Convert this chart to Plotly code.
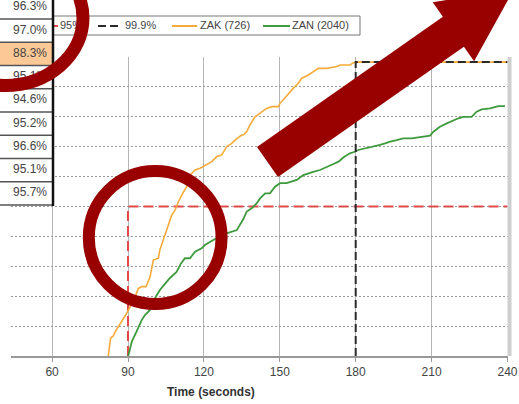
import plotly.graph_objects as go

# ---------------- data ----------------
series_names = ["95%", "99.9%", "ZAK (726)", "ZAN (2040)"]

zak_time = [82.2, 83.1, 84.2, 84.9, 89.5, 90.8, 92.8, 94.1, 95.4, 97.1, 98.7, 100.0, 102.0, 102.6,
            104.6, 105.9, 107.3, 108.6, 109.9, 111.9, 113.2, 114.5, 116.5, 118.5, 121.1, 123.1,
            125.1, 127.0, 129.0, 131.0, 132.3, 134.9, 135.6, 136.9, 138.2, 140.2, 142.2, 144.8,
            146.8, 149.4, 150.1, 153.4, 155.3, 157.3, 158.7, 161.3, 163.2, 165.2, 168.5, 172.5,
            173.8, 177.8, 178.9, 180.5, 240.0]
zak_pct = [0, 6.0, 6.7, 8.1, 14.3, 16.5, 19.8, 22.6, 23.2, 23.2, 26.4, 32.1, 32.7, 35.5,
           40.5, 43.5, 47.2, 48.8, 51.6, 54.8, 56.6, 60.5, 62.2, 62.8, 63.9, 65.0,
           66.7, 67.2, 70.0, 71.1, 72.2, 73.9, 73.9, 75.0, 77.3, 80.0, 81.2, 82.8,
           83.4, 83.4, 84.5, 87.9, 89.5, 91.2, 92.9, 94.0, 95.1, 96.2, 96.2, 96.8,
           97.3, 97.3, 98.0, 98.3, 98.3]

zan_time = [90.1, 91.5, 93.4, 95.4, 96.7, 98.7, 100.0, 101.5, 102.6, 104.6,
            106.6, 109.2, 110.9, 112.5, 114.5, 116.5, 119.1, 120.4, 122.4, 124.4,
            126.4, 129.0, 133.0, 134.3, 135.6, 136.9, 138.9, 140.9, 142.2, 144.2,
            146.1, 148.1, 150.1, 152.7, 154.7, 156.7, 159.3, 161.3, 163.2, 165.9,
            168.5, 171.2, 173.2, 175.1, 177.7, 179.7, 181.0, 184.3, 187.0, 189.6,
            191.6, 193.6, 196.2, 198.8, 202.1, 205.4, 209.4, 210.7, 213.3, 216.0,
            218.6, 220.6, 222.5, 225.8, 227.8, 229.8, 233.1, 236.4, 239.0]
zan_pct = [0, 4.8, 8.2, 12.0, 13.7, 15.4, 18.4, 20.4, 22.1, 24.1,
           26.1, 28.1, 30.9, 32.7, 32.7, 34.9, 36.0, 37.1, 38.2, 39.1,
           40.1, 41.0, 42.1, 43.8, 45.8, 48.3, 49.4, 51.1, 52.7, 54.4,
           54.4, 56.6, 57.8, 57.8, 58.3, 58.9, 60.5, 61.1, 61.6, 62.2,
           63.3, 64.2, 65.0, 66.4, 67.8, 68.3, 68.9, 69.5, 70.0, 70.6,
           71.1, 71.7, 72.2, 72.8, 72.8, 73.1, 73.7, 75.0, 76.7, 77.8,
           78.9, 79.5, 80.0, 80.0, 81.7, 82.5, 82.8, 83.6, 83.6]

p95_time = [90, 90, 240]
p95_pct = [0, 50, 50]
p999_time = [180, 180, 240]
p999_pct = [0, 98.3, 98.3]

x_ticks = [60, 90, 120, 150, 180, 210, 240]
x_title = "Time (seconds)"

table_values = ["96.3%", "97.0%", "88.3%", "95.1%", "94.6%", "95.2%", "96.6%", "95.1%", "95.7%"]
highlight_row = 2

# ---------------- styling / layout ----------------
W, H = 519, 404
FONT = "Arial, Liberation Sans, sans-serif"
RED = "#e04a4a"
BLACK = "#2a2a2a"
ORANGE = "#f5aa3a"
GREEN = "#3d9a3d"
MAROON = "#990000"

# plot area in pixels
PL, PR, PT, PB = 11, 508, 57, 356

fig = go.Figure()

# main data traces
fig.add_trace(go.Scatter(x=p95_time, y=p95_pct, mode="lines", name=series_names[0],
                         line=dict(color=RED, width=2, dash="10px,5px")))
fig.add_trace(go.Scatter(x=zan_time, y=zan_pct, mode="lines", name=series_names[3],
                         line=dict(color=GREEN, width=1.8)))
fig.add_trace(go.Scatter(x=zak_time, y=zak_pct, mode="lines", name=series_names[2],
                         line=dict(color=ORANGE, width=1.6)))
fig.add_trace(go.Scatter(x=p999_time, y=p999_pct, mode="lines", name=series_names[1],
                         line=dict(color=BLACK, width=2, dash="8px,4px")))

# ---------- overlay (pixel space) : legend + table ----------
def px_trace(**kw):
    kw.setdefault("hoverinfo", "skip")
    kw.setdefault("showlegend", False)
    return go.Scatter(xaxis="x2", yaxis="y2", **kw)

# legend box
LY0, LY1, LYC = 16, 35, 26
fig.add_trace(px_trace(x=[-10, 360, 360, -10, -10], y=[LY0, LY0, LY1, LY1, LY0], mode="lines",
                       fill="toself", fillcolor="white", line=dict(color="#777", width=1)))
leg_items = [
    (series_names[0], RED, "solid", 30, 58, 60),
    (series_names[1], BLACK, "8px,4px", 98, 122, 125),
    (series_names[2], ORANGE, "solid", 172, 197, 200),
    (series_names[3], GREEN, "solid", 263, 290, 292),
]
for name, col, dash, xa, xb, xt in leg_items:
    fig.add_trace(px_trace(x=[xa, xb], y=[LYC, LYC], mode="lines",
                           line=dict(color=col, width=2, dash=dash)))
fig.add_trace(px_trace(x=[it[5] for it in leg_items], y=[LYC] * len(leg_items), mode="text",
                       text=[it[0] for it in leg_items], textposition="middle right",
                       textfont=dict(family=FONT, size=11, color="#444")))

# table
ROW_H = 23.25
TOP0 = -4.25
TX0, TX1 = -60, 53
for i, v in enumerate(table_values):
    top = TOP0 + i * ROW_H
    bot = top + ROW_H
    fc = "#fbc896" if i == highlight_row else "white"
    fig.add_trace(px_trace(x=[TX0, TX1, TX1, TX0, TX0], y=[top, top, bot, bot, top],
                           mode="lines", fill="toself", fillcolor=fc, line=dict(width=0)))
hx, hy = [], []
for i in range(len(table_values) + 1):
    yb = TOP0 + i * ROW_H
    hx += [TX0, TX1, None]
    hy += [yb, yb, None]
fig.add_trace(px_trace(x=hx, y=hy, mode="lines", line=dict(color="#555", width=1.3)))
fig.add_trace(px_trace(x=[TX1, TX1], y=[-5, TOP0 + len(table_values) * ROW_H + 1], mode="lines",
                       line=dict(color="#111", width=2.5)))
fig.add_trace(px_trace(x=[47] * len(table_values),
                       y=[TOP0 + (i + 0.5) * ROW_H for i in range(len(table_values))],
                       mode="text", text=table_values, textposition="middle left",
                       textfont=dict(family=FONT, size=12, color="#444")))

# ---------------- shapes (annotation marks drawn over the chart) ----------------
shapes = []
shapes.append(dict(type="line", xref="x2", yref="y2", x0=509.5, x1=509.5, y0=PT, y1=PB,
                   line=dict(color="#cfcfcf", width=4), layer="above"))
shapes.append(dict(type="circle", xref="x2", yref="y2", x0=-73, x1=83, y0=-49.5, y1=85.5,
                   line=dict(color=MAROON, width=13), fillcolor="rgba(0,0,0,0)", layer="above"))
shapes.append(dict(type="circle", xref="x2", yref="y2", x0=88.8, x1=221.6, y0=171, y1=304,
                   line=dict(color=MAROON, width=12), fillcolor="rgba(0,0,0,0)", layer="above"))
arrow_pts = [(257, 147), (442.9, 16.7), (432.7, 2.2), (514, -10.8), (474.1, 61.2), (463.9, 46.7), (278, 177)]
path = "M " + " L ".join(f"{x},{y}" for x, y in arrow_pts) + " Z"
shapes.append(dict(type="path", xref="x2", yref="y2", path=path, fillcolor=MAROON,
                   line=dict(width=0), layer="above"))

fig.update_layout(
    width=W, height=H,
    margin=dict(l=0, r=0, t=0, b=0, autoexpand=False),
    paper_bgcolor="white",
    plot_bgcolor="rgba(0,0,0,0)",
    showlegend=False,
    hovermode=False,
    font=dict(family=FONT, size=12, color="#444"),
    xaxis=dict(domain=[PL / W, PR / W], range=[43.75, 240.2], tickvals=x_ticks,
               automargin=False,
               showgrid=True, gridcolor="#b5b5b5", gridwidth=1,
               showline=True, linecolor="#999", linewidth=2,
               ticks="outside", ticklen=4, tickcolor="#999", tickwidth=1,
               tickfont=dict(family=FONT, size=12, color="#444"), zeroline=False),
    yaxis=dict(domain=[(H - PB) / H, (H - PT) / H], range=[0, 100], dtick=10,
               automargin=False,
               showticklabels=False, showgrid=True, gridcolor="#9a9a9a", gridwidth=1,
               griddash="2px,2px", zeroline=False, showline=False, ticks=""),
    xaxis2=dict(domain=[0, 1], range=[0, W], visible=False, anchor="y2", fixedrange=True,
                automargin=False),
    yaxis2=dict(domain=[0, 1], range=[H, 0], visible=False, anchor="x2", fixedrange=True,
                automargin=False),
    shapes=shapes,
    annotations=[dict(xref="x2", yref="y2", x=210.5, y=391.5, text="<b>" + x_title + "</b>",
                      showarrow=False, font=dict(family=FONT, size=12, color="#333"))],
)

fig.write_html("out.html", config={"displayModeBar": False},
               post_script="document.body.style.margin='0';document.body.style.overflow='hidden';")
